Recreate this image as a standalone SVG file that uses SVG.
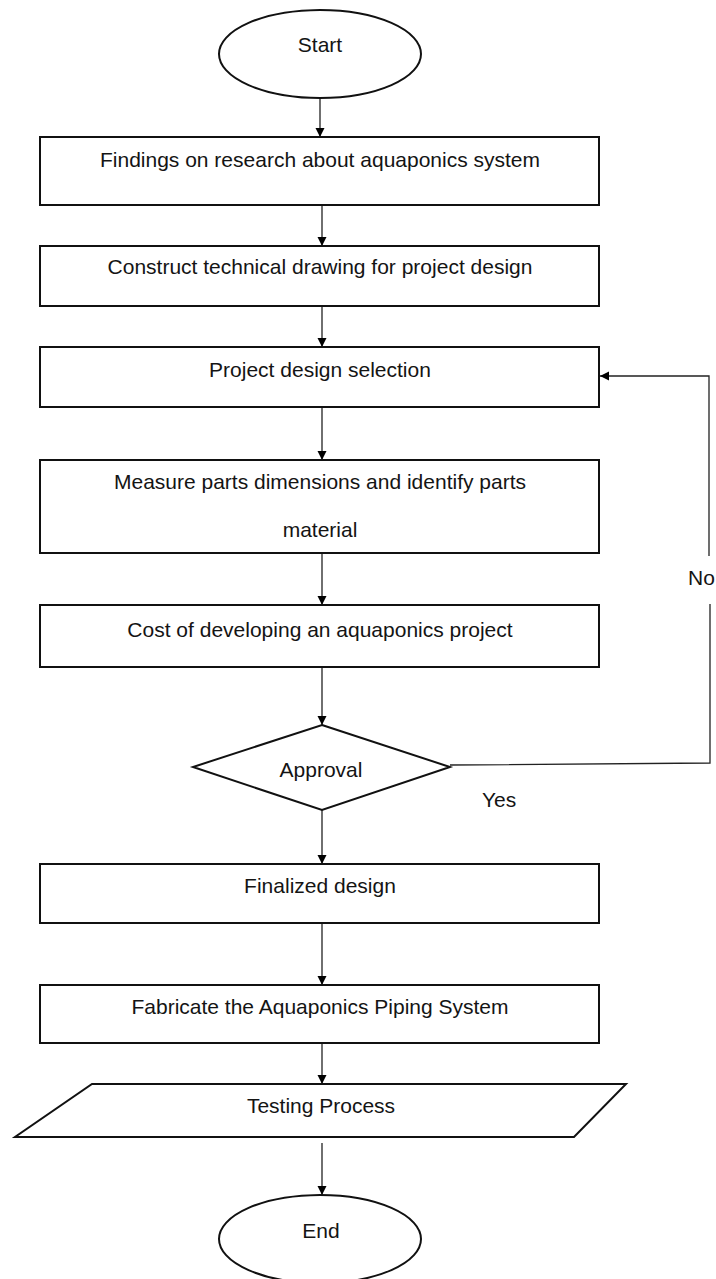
<svg xmlns="http://www.w3.org/2000/svg" width="716" height="1279" viewBox="0 0 716 1279">
<style>
.shape{fill:#fff;stroke:#111;stroke-width:2}
.lbl{font-family:"Liberation Sans",Arial,sans-serif;font-size:21px;fill:#141414;text-anchor:middle}
.free{font-family:"Liberation Sans",Arial,sans-serif;font-size:21px;fill:#141414}
.con{fill:none;stroke:#222;stroke-width:1.3}
</style>
<defs>
<marker id="ah" markerUnits="userSpaceOnUse" markerWidth="10" markerHeight="10" refX="9" refY="5" orient="auto">
<path d="M0,0.5 L9,5 L0,9.5 z" fill="#000"/>
</marker>
</defs>
<rect width="716" height="1279" fill="#fff"/>
<g id="connectors">
<line class="con" x1="320" y1="98" x2="320" y2="137" marker-end="url(#ah)"/>
<line class="con" x1="322" y1="205" x2="322" y2="246" marker-end="url(#ah)"/>
<line class="con" x1="322" y1="306" x2="322" y2="347" marker-end="url(#ah)"/>
<line class="con" x1="322" y1="407" x2="322" y2="460" marker-end="url(#ah)"/>
<line class="con" x1="322" y1="553" x2="322" y2="605" marker-end="url(#ah)"/>
<line class="con" x1="322" y1="667" x2="322" y2="725" marker-end="url(#ah)"/>
<line class="con" x1="322" y1="810" x2="322" y2="864" marker-end="url(#ah)"/>
<line class="con" x1="322" y1="923" x2="322" y2="985" marker-end="url(#ah)"/>
<line class="con" x1="322" y1="1038" x2="322" y2="1084" marker-end="url(#ah)"/>
<line class="con" x1="322" y1="1143" x2="322" y2="1195" marker-end="url(#ah)"/>
<path class="con" d="M450,765 L710,763 L710,604"/>
<path class="con" d="M709,556 L709,376 L600,376" marker-end="url(#ah)"/>
<text class="free" x="688" y="585">No</text>
<text class="free" x="482" y="807">Yes</text>
</g>
<g id="start">
<ellipse class="shape" cx="320" cy="54" rx="101" ry="44"/>
<text class="lbl" x="320" y="52">Start</text>
</g>
<g id="findings">
<rect class="shape" x="40" y="137" width="559" height="68"/>
<text class="lbl" x="320" y="167">Findings on research about aquaponics system</text>
</g>
<g id="construct">
<rect class="shape" x="40" y="246" width="559" height="60"/>
<text class="lbl" x="320" y="274">Construct technical drawing for project design</text>
</g>
<g id="selection">
<rect class="shape" x="40" y="347" width="559" height="60"/>
<text class="lbl" x="320" y="377">Project design selection</text>
</g>
<g id="measure">
<rect class="shape" x="40" y="460" width="559" height="93"/>
<text class="lbl" x="320" y="489">Measure parts dimensions and identify parts</text>
<text class="lbl" x="320" y="537">material</text>
</g>
<g id="cost">
<rect class="shape" x="40" y="605" width="559" height="62"/>
<text class="lbl" x="320" y="637">Cost of developing an aquaponics project</text>
</g>
<g id="approval">
<polygon class="shape" points="322,725 450,767 322,810 193,767"/>
<text class="lbl" x="321" y="777">Approval</text>
</g>
<g id="finalized">
<rect class="shape" x="40" y="864" width="559" height="59"/>
<text class="lbl" x="320" y="893">Finalized design</text>
</g>
<g id="fabricate">
<rect class="shape" x="40" y="985" width="559" height="58"/>
<text class="lbl" x="320" y="1014">Fabricate the Aquaponics Piping System</text>
</g>
<g id="testing">
<polygon class="shape" points="92,1084 626,1084 574,1137 15,1137"/>
<text class="lbl" x="321" y="1113">Testing Process</text>
</g>
<g id="end">
<ellipse class="shape" cx="320" cy="1239" rx="101" ry="44"/>
<text class="lbl" x="321" y="1238">End</text>
</g>
</svg>
